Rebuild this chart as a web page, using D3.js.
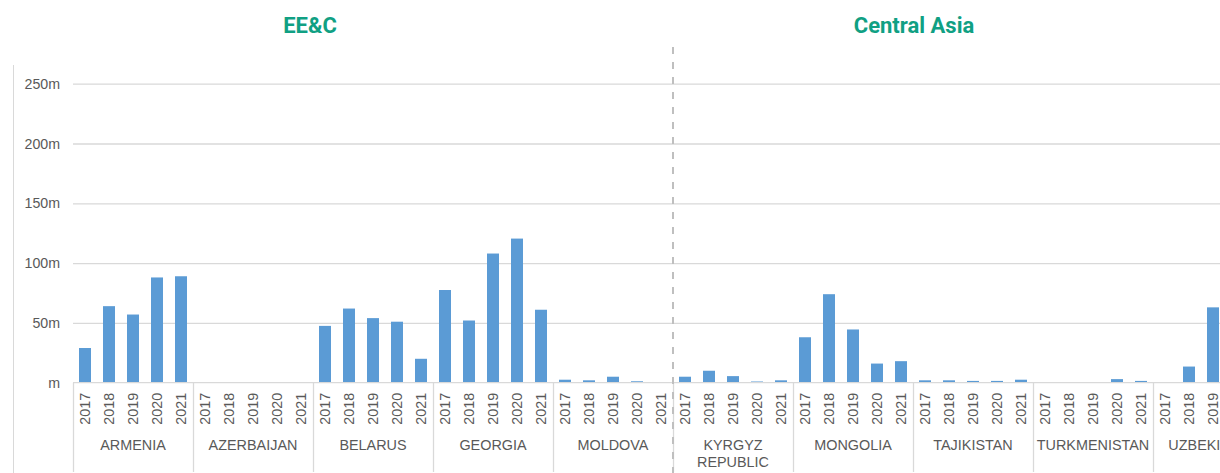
<!DOCTYPE html>
<html>
<head>
<meta charset="utf-8">
<script src="https://cdn.jsdelivr.net/npm/d3@7"></script>
<style>
  html, body { margin: 0; padding: 0; background: #fff; overflow: hidden; }
  svg { display: block; }
</style>
</head>
<body>
<svg id="chart" width="1220" height="473"></svg>
<script>
// Annual funding per country (millions), 2017–2021
const years = ["2017", "2018", "2019", "2020", "2021"];
const countries = ["ARMENIA", "AZERBAIJAN", "BELARUS", "GEORGIA", "MOLDOVA",
                   "KYRGYZ REPUBLIC", "MONGOLIA", "TAJIKISTAN", "TURKMENISTAN", "UZBEKISTAN"];
const armenia      = [29, 64, 57, 88, 89];
const azerbaijan   = [0.5, 0, 0, 0, 0];
const belarus      = [47.5, 62, 54, 51, 20];
const georgia      = [77.5, 52, 108, 120.5, 61];
const moldova      = [2.5, 2, 5, 1.2, 0.4];
const kyrgyz       = [5, 10, 5.5, 1, 2];
const mongolia     = [38, 74, 44.5, 16, 18];
const tajikistan   = [2, 2, 1.5, 1.5, 2.5];
const turkmenistan = [0.5, 0, 0, 3, 1.5];
const uzbekistan   = [0, 13.5, 63, null, null];
const seriesValues = [armenia, azerbaijan, belarus, georgia, moldova,
                      kyrgyz, mongolia, tajikistan, turkmenistan, uzbekistan];
const yTicks = [0, 50, 100, 150, 200, 250];
const regions = [{ name: "EE&C", x: 310 }, { name: "Central Asia", x: 914 }];

const rows = [];
countries.forEach((c, i) => years.forEach((yr, j) => {
  rows.push({ key: c + "|" + yr, country: c, year: yr, value: seriesValues[i][j] });
}));

const svg = d3.select("#chart");
const plotLeft = 73, groupW = 120;
const plotRight = plotLeft + groupW * countries.length;
const plotTop = 83.7, base = 382.7, plotBottom = 472;

const y = d3.scaleLinear().domain([0, 250]).range([base, plotTop]);
const xGroup = d3.scaleBand().domain(countries).range([plotLeft, plotRight]);
const xBar = d3.scaleBand().domain(rows.map(r => r.key)).range([plotLeft, plotRight]).paddingInner(0.5).paddingOuter(0.25);
const xSlot = d3.scaleBand().domain(rows.map(r => r.key)).range([plotLeft, plotRight]);

const textCol = "#595959", gridCol = "#d9d9d9", font = "'Liberation Sans', Arial, sans-serif";

// chart-area left edge
svg.append("line").attr("x1", 13.5).attr("x2", 13.5).attr("y1", 65).attr("y2", 473)
  .attr("stroke", gridCol).attr("stroke-width", 1);

// gridlines + value axis labels
const yAxis = d3.axisLeft(y).tickValues(yTicks).tickSize(0).tickPadding(13)
  .tickFormat(d => (d === 0 ? "" : d) + "m");
const ya = svg.append("g").attr("transform", `translate(${plotLeft},0)`).call(yAxis);
ya.select(".domain").remove();
ya.selectAll("text").attr("fill", textCol).style("font-family", font).style("font-size", "14.2px");
ya.selectAll(".tick").filter(d => d !== 0).append("line").attr("x1", 0).attr("x2", plotRight - plotLeft)
  .attr("stroke", gridCol).attr("stroke-width", 1.3);

// bars
svg.append("g").selectAll("rect").data(rows.filter(r => r.value != null)).join("rect")
  .attr("x", d => xBar(d.key))
  .attr("width", xBar.bandwidth())
  .attr("y", d => y(d.value))
  .attr("height", d => base - y(d.value))
  .attr("fill", "#5b9bd5");

// category axis
const xa = svg.append("g").attr("transform", `translate(0,${base})`);
xa.append("line").attr("x1", plotLeft).attr("x2", plotRight).attr("y1", 0).attr("y2", 0)
  .attr("stroke", gridCol).attr("stroke-width", 1.3);
xa.selectAll("line.sep").data(countries.concat(["end"])).join("line").attr("class", "sep")
  .attr("x1", (d, i) => plotLeft + i * groupW + 0.5).attr("x2", (d, i) => plotLeft + i * groupW + 0.5)
  .attr("y1", 0).attr("y2", plotBottom - base)
  .attr("stroke", gridCol).attr("stroke-width", 1.3);

xa.selectAll("text.year").data(rows).join("text").attr("class", "year")
  .attr("transform", d => `translate(${xSlot(d.key) + xSlot.bandwidth() / 2 + 5},10) rotate(-90)`)
  .attr("text-anchor", "end")
  .attr("fill", textCol).style("font-family", font).style("font-size", "14.4px")
  .text(d => d.year);

const cl = xa.selectAll("text.country").data(countries).join("text").attr("class", "country")
  .attr("x", d => xGroup(d) + groupW / 2)
  .attr("y", 67.3)
  .attr("text-anchor", "middle")
  .attr("fill", textCol).style("font-family", font).style("font-size", "14.4px");
cl.each(function (d) {
  const parts = d === "KYRGYZ REPUBLIC" ? ["KYRGYZ", "REPUBLIC"] : [d];
  const t = d3.select(this);
  parts.forEach((p, i) => t.append("tspan").attr("x", xGroup(d) + groupW / 2)
    .attr("dy", i === 0 ? 0 : 17.3).text(p));
});

// region divider
svg.append("line").attr("x1", plotLeft + groupW * 5).attr("x2", plotLeft + groupW * 5)
  .attr("y1", 47).attr("y2", 473)
  .attr("stroke", "#bfbfbf").attr("stroke-width", 2).attr("stroke-dasharray", "7,8");

// region headings
svg.selectAll("text.region").data(regions).join("text").attr("class", "region")
  .attr("x", d => d.x).attr("y", 33)
  .attr("text-anchor", "middle")
  .attr("fill", "#10a083").style("font-family", "Roboto, sans-serif")
  .style("font-weight", "bold").style("font-size", "22px")
  .text(d => d.name);
</script>
</body>
</html>
